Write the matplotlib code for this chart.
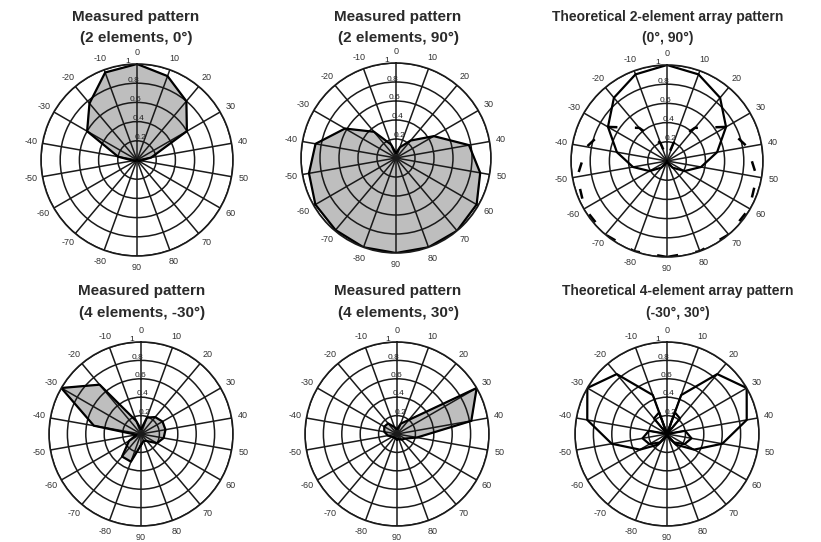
import numpy as np
import matplotlib
matplotlib.use("Agg")
from matplotlib import pyplot as plt

W, H = 821, 542

# pattern angle (deg); the plot draws angle a at 2*a on the dial
theta = [-90, -80, -70, -60, -50, -40, -30, -20, -10, 0, 10, 20, 30, 40, 50, 60, 70, 80, 90]

meas_2el_0 = [0, 0, 0, 0.02, 0.04, 0.2, 0.6, 0.77, 0.97, 1.0, 0.93, 0.8, 0.6, 0.15, 0.04, 0.02, 0, 0, 0]
meas_2el_90 = [1.0, 1.0, 0.99, 0.98, 0.93, 0.86, 0.62, 0.36, 0.15, 0.05, 0.12, 0.24, 0.46, 0.78, 0.9, 0.98, 1.0, 1.0, 1.0]
theo_2el_0 = [0, 0.02, 0.09, 0.21, 0.36, 0.53, 0.71, 0.86, 0.96, 1.0, 0.96, 0.86, 0.71, 0.53, 0.36, 0.21, 0.09, 0.02, 0]
theo_2el_90 = [1.0, 1.0, 1.0, 0.99, 0.95, 0.85, 0.71, 0.45, 0.2, 0.03, 0.2, 0.45, 0.71, 0.85, 0.95, 0.99, 1.0, 1.0, 1.0]
meas_4el_m30 = [0.12, 0.32, 0.32, 0.15, 0.05, 0.52, 1.0, 0.7, 0.15, 0.05, 0.19, 0.24, 0.27, 0.27, 0.25, 0.2, 0.1, 0.08, 0.12]
meas_4el_p30 = [0.06, 0.05, 0.05, 0.06, 0.1, 0.14, 0.16, 0.15, 0.08, 0.05, 0.12, 0.2, 1.0, 0.82, 0.22, 0.1, 0.08, 0.06, 0.06]
theo_4el_p30 = [0, 0.03, 0.12, 0.22, 0.27, 0.2, 0, 0.22, 0.25, 0, 0.45, 0.85, 1.0, 0.88, 0.61, 0.34, 0.15, 0.03, 0]
theo_4el_m30 = theo_4el_p30[::-1]

ring_values = [0.2, 0.4, 0.6, 0.8, 1.0]
ring_labels = ['0.2', '0.4', '0.6', '0.8', '1']
spoke_labels = [0, 10, 20, 30, 40, 50, 60, 70, 80, 90, -80, -70, -60, -50, -40, -30, -20, -10]

titles = [
    ("Measured pattern", "(2 elements, 0°)", 136, 17, 38, 11),
    ("Measured pattern", "(2 elements, 90°)", 398, 17, 38, 11),
    ("Theoretical 2-element array pattern", "(0°, 90°)", 668, 17, 38, 10),
    ("Measured pattern", "(4 elements, -30°)", 142, 291, 313, 11),
    ("Measured pattern", "(4 elements, 30°)", 398, 291, 313, 11),
    ("Theoretical 4-element array pattern", "(-30°, 30°)", 678, 291, 313, 10),
]

plt.rcParams['font.family'] = ['Liberation Sans', 'DejaVu Sans']

fig = plt.figure(figsize=(W / 100, H / 100), dpi=100)
fig.patch.set_facecolor('white')


def polar_panel(cx, cy, r=95):
    ax = fig.add_axes([(cx - r) / W, (H - cy - r) / H, 2 * r / W, 2 * r / H], projection='polar')
    ax.set_theta_zero_location('N')
    ax.set_theta_direction(-1)
    ax.set_ylim(0, 1)
    ax.set_thetagrids([(2 * a) % 360 for a in spoke_labels], [str(a) for a in spoke_labels],
                      fontsize=6.5, color='#333333')
    ax.set_rgrids(ring_values, ring_labels, angle=-7, fontsize=6, color='#222222')
    ax.grid(True, color='#1a1a1a', lw=1.1)
    ax.spines['polar'].set_linewidth(1.2)
    ax.spines['polar'].set_color('#1a1a1a')
    ax.tick_params(axis='x', pad=-2)
    return ax


vis = np.deg2rad(2 * np.array(theta))

ax1 = polar_panel(137, 160, 96)
ax1.fill(vis, meas_2el_0, color='#bebebe', zorder=1)
ax1.plot(vis, meas_2el_0, color='k', lw=1.6)

ax2 = polar_panel(396, 158, 95)
ax2.fill(vis, meas_2el_90, color='#bebebe', zorder=1)
ax2.plot(vis, meas_2el_90, color='k', lw=1.6)

ax3 = polar_panel(667, 161, 96)
ax3.plot(vis, theo_2el_0, color='k', lw=1.6)
ax3.plot(vis, theo_2el_90, color='k', lw=1.8, ls=(0, (4, 7)))

ax4 = polar_panel(141, 434, 92)
ax4.fill(vis, meas_4el_m30, color='#bebebe', zorder=1)
ax4.plot(vis, meas_4el_m30, color='k', lw=1.6)

ax5 = polar_panel(397, 434, 92)
ax5.fill(vis, meas_4el_p30, color='#bebebe', zorder=1)
ax5.plot(vis, meas_4el_p30, color='k', lw=1.6)

ax6 = polar_panel(667, 434, 92)
ax6.plot(vis, theo_4el_m30, color='k', lw=1.6)
ax6.plot(vis, theo_4el_p30, color='k', lw=1.6)

for line1, line2, x, y1, y2, fs in titles:
    fig.text(x / W, 1 - y1 / H, line1, ha='center', va='center', fontsize=fs,
             fontweight='bold', color='#2a2a2a')
    fig.text(x / W, 1 - y2 / H, line2, ha='center', va='center', fontsize=fs,
             fontweight='bold', color='#2a2a2a')

fig.savefig('out.png', dpi=100)
